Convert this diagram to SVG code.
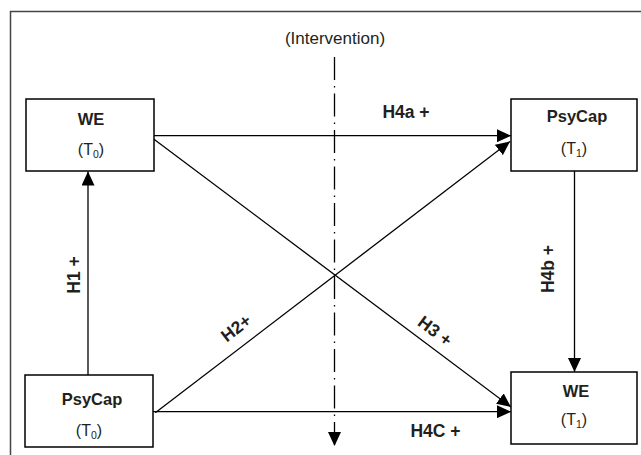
<svg xmlns="http://www.w3.org/2000/svg" width="641" height="455" viewBox="0 0 641 455">
  <defs>
    <marker id="arr" markerUnits="userSpaceOnUse" markerWidth="14" markerHeight="13" refX="14" refY="6.5" orient="auto">
      <path d="M0,0 L14,6.5 L0,13 z" fill="#000"/>
    </marker>
    <style>
      .box { fill: #fff; stroke: #000; stroke-width: 1.5; }
      .name { font-family: "Liberation Sans", Arial, sans-serif; font-weight: bold; font-size: 16.5px; fill: #231f20; text-anchor: middle; }
      .time { font-family: "Liberation Sans", Arial, sans-serif; font-size: 16px; fill: #231f20; text-anchor: middle; }
      .sub { font-size: 10.5px; }
      .lbl { font-family: "Liberation Sans", Arial, sans-serif; font-weight: bold; font-size: 17.5px; fill: #231f20; text-anchor: middle; }
      .conn { stroke: #000; stroke-width: 1.3; fill: none; marker-end: url(#arr); }
    </style>
  </defs>
  <rect x="0" y="0" width="641" height="455" fill="#fff"/>
  <rect x="10.5" y="11.5" width="640" height="460" fill="none" stroke="#444" stroke-width="1.5"/>

  <text x="335" y="44" font-family="Liberation Sans, Arial, sans-serif" font-size="17" fill="#231f20" text-anchor="middle">(Intervention)</text>

  <g id="connectors">
    <line x1="334.5" y1="57" x2="334.5" y2="446" stroke="#000" stroke-width="1.3" stroke-dasharray="23 6 1.5 6" marker-end="url(#arr)"/>
    <line class="conn" x1="88" y1="375" x2="88" y2="171.5"/>
    <line class="conn" x1="154" y1="135.7" x2="511" y2="135.7"/>
    <line class="conn" x1="154" y1="139.3" x2="511" y2="407"/>
    <line class="conn" x1="155.3" y1="412.7" x2="510" y2="141.5"/>
    <line class="conn" x1="153" y1="411.7" x2="511" y2="411.7"/>
    <line class="conn" x1="574.5" y1="171" x2="574.5" y2="372" stroke="#444"/>
    <text class="lbl" x="406" y="118">H4a +</text>
    <text class="lbl" transform="translate(79.5,275) rotate(-90)">H1 +</text>
    <text class="lbl" transform="translate(554,269) rotate(-90)">H4b +</text>
    <text class="lbl" transform="translate(239.6,332.8) rotate(-37.5)">H2+</text>
    <text class="lbl" transform="translate(431.4,335.8) rotate(36.9)">H3 +</text>
    <text class="lbl" x="435.5" y="437">H4C +</text>
  </g>

  <g id="we-t0">
    <rect class="box" x="26" y="99" width="128" height="72"/>
    <text class="name" x="91" y="125">WE</text>
    <text class="time" x="91" y="155">(T<tspan class="sub" dy="3">0</tspan><tspan dy="-3">)</tspan></text>
  </g>
  <g id="psycap-t1">
    <rect class="box" x="511" y="99" width="126" height="72"/>
    <text class="name" x="577" y="122">PsyCap</text>
    <text class="time" x="574" y="154">(T<tspan class="sub" dy="3">1</tspan><tspan dy="-3">)</tspan></text>
  </g>
  <g id="psycap-t0">
    <rect class="box" x="25" y="375" width="128" height="72"/>
    <text class="name" x="92" y="405">PsyCap</text>
    <text class="time" x="89" y="436">(T<tspan class="sub" dy="3">0</tspan><tspan dy="-3">)</tspan></text>
  </g>
  <g id="we-t1">
    <rect class="box" x="511" y="372" width="126" height="72"/>
    <text class="name" x="576" y="397">WE</text>
    <text class="time" x="574" y="425">(T<tspan class="sub" dy="3">1</tspan><tspan dy="-3">)</tspan></text>
  </g>
</svg>
